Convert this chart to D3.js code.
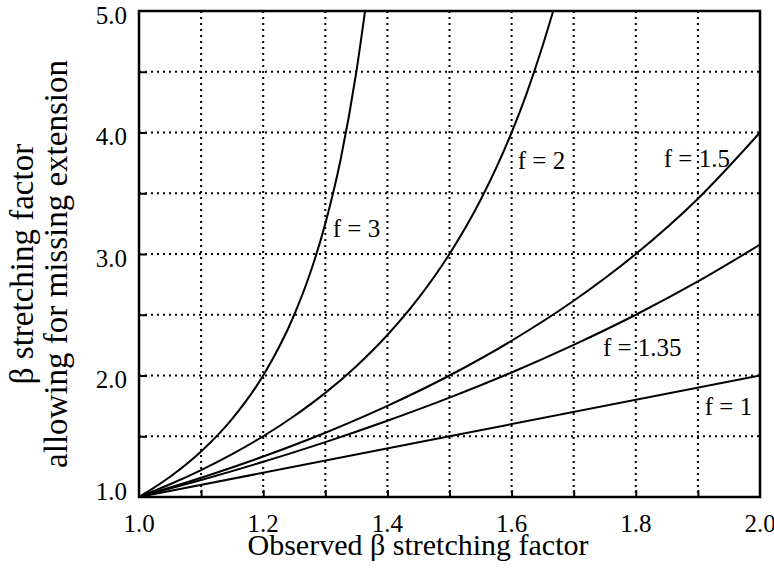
<!DOCTYPE html>
<html lang="en">
<head>
    <meta charset="UTF-8">
    <title>beta stretching factor</title>
    <style>
        body { margin: 0; background: #fff; }
        text { font-family: "Liberation Serif", "Times New Roman", serif; fill: #000; }
    </style>
</head>
<body>
<script src="https://cdn.jsdelivr.net/npm/d3@7"></script>
<script type="text/javascript">
    //Size of page and plot area
    var w = 774;
    var h = 580;
    var margin = {left: 139, top: 11, right: 14, bottom: 83};
    var pw = w - margin.left - margin.right;
    var ph = h - margin.top - margin.bottom;
    var serif = "'Liberation Serif', 'Times New Roman', serif";

    //Tick values and labels
    var xTicks = [1.0, 1.2, 1.4, 1.6, 1.8, 2.0];
    var yTicks = [1.0, 2.0, 3.0, 4.0, 5.0];
    var xGrid = [1.1, 1.2, 1.3, 1.4, 1.5, 1.6, 1.7, 1.8, 1.9];
    var yGrid = [1.5, 2.0, 2.5, 3.0, 3.5, 4.0, 4.5];

    //Curves: [observed beta, corrected beta]
    var curveF1 = [[1.0, 1.0], [1.5, 1.5], [2.0, 2.0]];
    var curveF135 = [[1.0, 1.0], [1.1, 1.14], [1.2, 1.29], [1.3, 1.452], [1.4, 1.628], [1.5, 1.818],
        [1.6, 2.025], [1.7, 2.252], [1.8, 2.5], [1.9, 2.774], [2.0, 3.077]];
    var curveF15 = [[1.0, 1.0], [1.1, 1.158], [1.2, 1.333], [1.3, 1.529], [1.4, 1.75], [1.5, 2.0],
        [1.6, 2.286], [1.7, 2.615], [1.8, 3.0], [1.9, 3.455], [2.0, 4.0]];
    var curveF2 = [[1.0, 1.0], [1.05, 1.105], [1.1, 1.222], [1.15, 1.353], [1.2, 1.5], [1.25, 1.667],
        [1.3, 1.857], [1.35, 2.077], [1.4, 2.333], [1.45, 2.636], [1.5, 3.0], [1.55, 3.444],
        [1.6, 4.0], [1.625, 4.333], [1.65, 4.714], [1.667, 5.0]];
    var curveF3 = [[1.0, 1.0], [1.02, 1.0625], [1.05, 1.167], [1.1, 1.375], [1.15, 1.643], [1.2, 2.0],
        [1.25, 2.5], [1.275, 2.833], [1.3, 3.25], [1.325, 3.786], [1.35, 4.5], [1.364, 5.0]];
    var curves = [curveF1, curveF135, curveF15, curveF2, curveF3];

    //Curve labels
    var labelText = ["f = 1", "f = 1.35", "f = 1.5", "f = 2", "f = 3"];
    var labelX = [1.911, 1.747, 1.845, 1.61, 1.312];
    var labelY = [1.675, 2.16, 3.716, 3.70, 3.14];

    var xScale = d3.scaleLinear().domain([1, 2]).range([0, pw]);
    var yScale = d3.scaleLinear().domain([1, 5]).range([ph, 0]);

    var svg = d3.select("body")
        .append("svg")
        .attr("width", w)
        .attr("height", h);

    var g = svg.append("g")
        .attr("transform", "translate(" + margin.left + "," + margin.top + ")");

    g.append("clipPath")
        .attr("id", "plotclip")
        .append("rect")
        .attr("width", pw)
        .attr("height", ph);

    //Dotted grid
    g.selectAll(".vgrid")
        .data(xGrid)
        .enter()
        .append("line")
        .attr("x1", function(d) { return xScale(d); })
        .attr("x2", function(d) { return xScale(d); })
        .attr("y1", 0)
        .attr("y2", ph)
        .attr("stroke", "#000")
        .attr("stroke-width", 2)
        .attr("stroke-dasharray", "2,4");
    g.selectAll(".hgrid")
        .data(yGrid)
        .enter()
        .append("line")
        .attr("y1", function(d) { return yScale(d); })
        .attr("y2", function(d) { return yScale(d); })
        .attr("x1", 0)
        .attr("x2", pw)
        .attr("stroke", "#000")
        .attr("stroke-width", 2)
        .attr("stroke-dasharray", "2,4");

    //Inward ticks
    var xAxis = d3.axisBottom(xScale).tickValues(xGrid).tickSize(-7).tickFormat("");
    var yAxis = d3.axisLeft(yScale).tickValues(yGrid).tickSize(-8).tickFormat("");
    g.append("g").attr("transform", "translate(0," + ph + ")").call(xAxis)
        .call(function(s) { s.select(".domain").remove(); })
        .selectAll("line").attr("stroke-width", 2);
    g.append("g").call(yAxis)
        .call(function(s) { s.select(".domain").remove(); })
        .selectAll("line").attr("stroke-width", 2);

    //Curves
    var line = d3.line()
        .x(function(d) { return xScale(d[0]); })
        .y(function(d) { return yScale(d[1]); })
        .curve(d3.curveMonotoneX);
    g.append("g")
        .attr("clip-path", "url(#plotclip)")
        .selectAll("path")
        .data(curves)
        .enter()
        .append("path")
        .attr("d", line)
        .attr("fill", "none")
        .attr("stroke", "#000")
        .attr("stroke-width", 2);

    //Frame
    g.append("rect")
        .attr("width", pw)
        .attr("height", ph)
        .attr("fill", "none")
        .attr("stroke", "#000")
        .attr("stroke-width", 2.5);

    //Tick labels
    g.selectAll(".xlab")
        .data(xTicks)
        .enter()
        .append("text")
        .attr("x", function(d) { return xScale(d); })
        .attr("y", ph + 35)
        .attr("text-anchor", "middle")
        .attr("font-family", serif)
        .attr("font-size", "25px")
        .text(function(d) { return d3.format(".1f")(d); });
    g.selectAll(".ylab")
        .data(yTicks)
        .enter()
        .append("text")
        .attr("x", -12)
        .attr("y", function(d) { return yScale(d); })
        .attr("dy", function(d, i) { return i === 0 ? "0.1em" : "0.5em"; })
        .attr("text-anchor", "end")
        .attr("font-family", serif)
        .attr("font-size", "25px")
        .text(function(d) { return d3.format(".1f")(d); });

    //Curve labels
    g.selectAll(".flab")
        .data(labelText)
        .enter()
        .append("text")
        .attr("x", function(d, i) { return xScale(labelX[i]); })
        .attr("y", function(d, i) { return yScale(labelY[i]); })
        .attr("font-family", serif)
        .attr("font-size", "25px")
        .text(function(d) { return d; });

    //Axis titles
    svg.append("text")
        .attr("x", 418)
        .attr("y", 555)
        .attr("text-anchor", "middle")
        .attr("font-family", serif)
        .attr("font-size", "30px")
        .text("Observed \u03b2 stretching factor");
    svg.append("text")
        .attr("transform", "translate(33,264) rotate(-90)")
        .attr("text-anchor", "middle")
        .attr("font-family", serif)
        .attr("font-size", "33px")
        .text("\u03b2 stretching factor");
    svg.append("text")
        .attr("transform", "translate(67,264) rotate(-90)")
        .attr("text-anchor", "middle")
        .attr("font-family", serif)
        .attr("font-size", "33px")
        .text("allowing for missing extension");
</script>
</body>
</html>
